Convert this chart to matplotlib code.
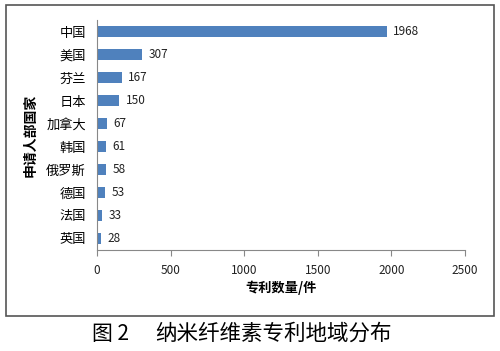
import matplotlib.pyplot as plt
from matplotlib.patches import Rectangle

plt.rcParams['font.family'] = ['Noto Sans CJK SC', 'DejaVu Sans']

countries = ["中国", "美国", "芬兰", "日本", "加拿大", "韩国", "俄罗斯", "德国", "法国", "英国"]
counts = [1968, 307, 167, 150, 67, 61, 58, 53, 33, 28]
xticks = [0, 500, 1000, 1500, 2000, 2500]

fig = plt.figure(figsize=(5, 3.51), dpi=100)
ax = fig.add_axes([0.194, 0.288, 0.736, 0.654])

pos = list(range(len(countries)))
ax.barh(pos, counts, height=0.48, color="#4F81BD")
ax.set_ylim(len(countries) - 0.5, -0.5)
ax.set_xlim(0, 2500)
ax.set_xticks(xticks)
ax.set_yticks(pos)
ax.set_yticklabels(countries, fontsize=9.5)
ax.tick_params(axis="x", labelsize=8.5, colors="#222222", length=4, color="#888888", pad=6)
ax.tick_params(axis="y", length=0, pad=8)

for i, v in enumerate(counts):
    ax.text(v + 45, i, str(v), va="center", ha="left", fontsize=8.5, color="#222222")

for s in ["top", "right"]:
    ax.spines[s].set_visible(False)
ax.spines["left"].set_color("#888888")
ax.spines["bottom"].set_color("#888888")

ax.set_xlabel("专利数量/件", fontsize=9.5, fontweight="bold", labelpad=3)
ax.set_ylabel("申请人部国家", fontsize=10, fontweight="bold", labelpad=6)

fig.patches.append(Rectangle((0.012, 0.1), 0.976, 0.885, transform=fig.transFigure,
                             fill=False, edgecolor="#555555", linewidth=1.2))

fig.text(0.222, 0.048, "图 2", ha="center", va="center", fontsize=15)
fig.text(0.31, 0.048, "纳米纤维素专利地域分布", ha="left", va="center", fontsize=15.5)

fig.savefig("out.png", dpi=100, facecolor="white")
